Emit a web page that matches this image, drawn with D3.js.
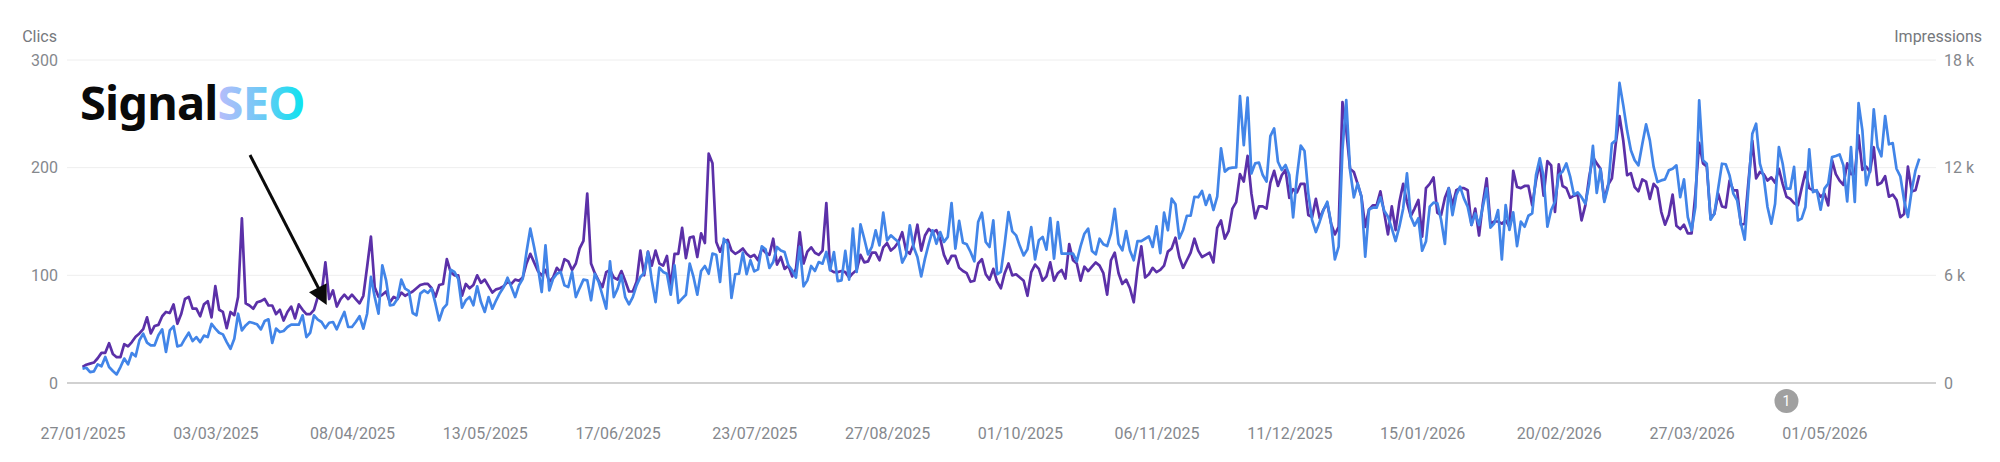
<!DOCTYPE html>
<html>
<head>
<meta charset="utf-8">
<title>Clics et impressions</title>
<script src="https://cdn.jsdelivr.net/npm/d3@7/dist/d3.min.js"></script>
<style>
  html, body { margin: 0; padding: 0; background: #fff; }
  svg { display: block; }
  text { font-family: Roboto, sans-serif; fill: #85888d; }
</style>
</head>
<body>
<svg id="chart" width="2000" height="462"></svg>
<script>
// Daily series, first value on 27/01/2025.
const clicks = [
15,17,18,19,23,28,28,37,27,24,24,36,34,38,43,46,50,61,46,53,54,62,66,65,73,55,64,78,80,69,
69,62,73,76,61,90,68,66,51,66,63,80,153,74,72,69,75,76,78,72,72,64,68,58,66,71,60,73,68,64,
64,68,80,83,112,78,86,71,78,82,78,82,78,74,81,108,136,89,80,82,85,75,80,78,84,81,83,85,88,91,
92,92,88,80,91,92,115,103,100,100,81,92,88,91,100,93,96,90,84,87,88,90,94,92,96,95,98,111,120,112,
104,100,105,94,98,107,103,115,113,105,111,125,132,176,111,102,95,89,103,105,98,96,104,95,85,85,94,123,100,122,
109,123,111,109,118,89,120,120,144,116,135,136,117,139,130,213,204,131,122,131,133,123,120,122,125,120,117,119,114,125,
121,119,134,110,117,106,109,99,106,140,111,122,126,121,119,123,167,105,103,103,104,103,98,102,105,119,112,113,121,121,
114,126,130,123,126,131,140,123,120,129,147,123,137,143,140,142,134,119,111,118,118,107,104,102,94,95,111,115,101,96,
106,94,88,102,111,100,101,98,95,81,103,110,106,95,99,112,95,102,105,97,129,114,111,95,108,104,108,112,109,102,
82,114,121,102,92,96,88,75,106,127,98,101,107,103,105,109,122,125,135,117,107,114,121,134,123,117,119,121,112,144,
151,134,141,162,168,194,187,211,176,153,164,164,162,186,197,183,193,198,172,180,177,185,185,156,154,171,153,161,167,148,
138,145,261,235,199,196,185,173,145,161,165,165,178,158,138,164,142,168,185,168,155,162,170,136,181,185,191,158,156,172,
181,165,179,181,181,179,147,162,137,167,190,148,150,150,148,151,145,197,182,181,183,183,165,188,205,174,206,202,159,203,
183,181,172,174,175,151,165,191,210,204,199,170,184,190,222,248,225,193,195,182,178,189,187,171,185,181,159,147,156,175,
146,143,147,139,139,176,223,204,201,153,157,176,164,163,188,179,179,147,148,188,225,190,196,194,188,191,186,199,185,173,
171,167,165,181,196,181,179,178,173,176,165,207,194,188,184,204,194,194,230,198,201,196,219,184,186,192,173,175,170,154,
157,201,178,179,193
];

const impressions = [
800,850,610,650,1040,930,1450,890,670,480,890,1360,1040,1670,1490,2380,2750,2250,2100,2100,2660,2990,1730,2930,3160,2040,2100,2470,2800,2340,
2560,2280,2640,2560,3300,3030,2800,2710,2280,1910,2470,3860,2930,3210,3400,3340,3270,2990,3450,3550,2230,3030,2840,2900,3120,3250,3250,3250,3770,2560,
2800,3770,3530,3400,3060,3360,3400,2990,3490,3960,3120,3120,3400,3720,3030,3860,5910,4790,3860,6560,5720,4330,4370,4700,5760,5260,5130,3900,3770,4980,
5160,5020,5260,4420,3490,4140,4380,6320,6190,5810,4200,4610,4790,4330,5390,4510,3960,4790,4140,4610,5020,5350,5870,5350,4790,5440,5810,7300,8600,7580,
6460,5070,7670,5160,5810,6090,6190,5440,5350,6190,4790,5290,5760,5720,4610,6090,5630,4890,4140,6780,4790,5260,6000,4790,4380,4790,5440,5910,6130,7300,
5720,4510,6430,6190,6090,4920,6560,4460,4700,4920,6650,5910,4920,6240,6520,6090,7210,7150,5630,8040,7760,4740,6060,6090,7260,6060,6840,6220,6330,7620,
7450,6410,6740,7580,7390,7300,6560,6280,5870,7580,5390,5720,6520,6240,6740,6650,7300,6280,7300,5680,5720,7360,5760,8600,6190,8840,8040,7170,7580,8510,
7670,9490,7950,8230,8040,7860,6710,7110,8790,7580,7020,5940,6930,7760,8510,7760,8410,7860,8140,10030,7490,9030,7820,7730,7300,6780,8970,9490,7860,7580,
9060,6060,6190,7760,9530,8450,8230,7630,7110,7450,8690,6890,7950,8140,7430,9190,6930,8970,7210,7210,7210,7210,6780,7630,8320,8600,7360,7170,8040,7730,
7630,8320,9710,7760,7390,8470,7390,6840,7910,7910,8040,8170,7580,8730,7240,9490,8510,10270,9960,8060,8530,9320,9320,10380,10350,10700,9920,10480,9640,10380,
13080,11780,11960,12000,12020,15990,13260,15900,11680,12240,12280,11590,11220,13760,14190,12330,11870,12150,11590,9230,11500,13230,12930,10570,9080,8410,8990,9640,10100,8900,
6890,7600,12980,15770,11870,10350,11130,10380,7040,9680,9770,9770,10350,9600,9270,8620,7910,8710,9730,11680,9270,8770,9180,7370,7880,9830,10050,10010,9080,7750,
10850,9360,10480,10940,10290,9830,8800,9450,8800,9830,10850,8660,8900,9640,6890,9920,8530,9510,7630,8990,8710,9320,9450,11590,12520,11500,8710,9640,10100,11590,
11780,12240,11500,10480,10620,10360,9990,11110,13210,10590,11940,10090,10920,13340,13520,16720,15470,14080,12970,12410,12130,13300,14410,13520,12040,11200,11290,11350,11850,11940,
12130,10360,11350,9250,8510,9810,15750,12410,12220,9100,9440,10830,12220,12190,11570,10550,10180,8880,7990,10920,13890,14450,12220,11480,9810,8880,9990,13150,12220,10830,
10830,12040,9060,9160,9810,13020,10640,10740,9660,10830,11110,12590,12650,12740,12130,10120,13150,10090,15600,14080,11020,11850,15250,13150,12630,14880,13300,13370,11940,11520,
10180,9250,10740,11850,12500
];

const dateLabels = [
  "27/01/2025","03/03/2025","08/04/2025","13/05/2025","17/06/2025","23/07/2025","27/08/2025",
  "01/10/2025","06/11/2025","11/12/2025","15/01/2026","20/02/2026","27/03/2026","01/05/2026"
];
const clickTicks = [0, 100, 200, 300];
const impressionTicks = [0, 6000, 12000, 18000];
const annotationDate = "21/04/2026";
const annotationText = "1";

const parseDay = d3.utcParse("%d/%m/%Y");
const formatDay = d3.utcFormat("%d/%m/%Y");
const firstDay = parseDay(dateLabels[0]);
const dayOf = i => d3.utcDay.offset(firstDay, i);

const plot = { left: 67, right: 1936, top: 60, bottom: 383 };

const x = d3.scaleUtc()
  .domain([firstDay, dayOf(484)])
  .range([82.5, 1919.3]);
const yClicks = d3.scaleLinear().domain([0, 300]).range([plot.bottom, plot.top]);
const yImpressions = d3.scaleLinear().domain([0, 18000]).range([plot.bottom, plot.top]);

const svg = d3.select("#chart");

// Horizontal grid, with a darker baseline at zero.
svg.append("g").selectAll("line").data(clickTicks).join("line")
  .attr("x1", plot.left).attr("x2", plot.right)
  .attr("y1", d => yClicks(d)).attr("y2", d => yClicks(d))
  .attr("stroke", d => d === 0 ? "#a3a3a3" : "#eeeeee")
  .attr("stroke-width", d => d === 0 ? 1.2 : 1);

// Axes keep their labels only: ticks and domain lines are removed.
function cleanAxis(g) {
  g.select(".domain").remove();
  g.selectAll(".tick line").remove();
  g.selectAll(".tick text").attr("font-family", "Roboto, sans-serif").attr("font-size", 16);
}

svg.append("g")
  .attr("transform", `translate(${plot.left - 9},0)`)
  .call(d3.axisLeft(yClicks).tickValues(clickTicks).tickSize(0).tickPadding(0))
  .call(cleanAxis);

svg.append("g")
  .attr("transform", `translate(${plot.right + 8},0)`)
  .call(d3.axisRight(yImpressions).tickValues(impressionTicks).tickSize(0).tickPadding(0)
    .tickFormat(d => d === 0 ? "0" : `${d / 1000} k`))
  .call(cleanAxis);

svg.append("g")
  .attr("transform", "translate(0,428)")
  .call(d3.axisBottom(x).tickValues(dateLabels.map(parseDay)).tickSize(0).tickPadding(0)
    .tickFormat(formatDay))
  .call(cleanAxis);

svg.append("text").attr("x", 57).attr("y", 42).attr("text-anchor", "end")
  .attr("font-size", 16).style("fill", "#75787d").text("Clics");
svg.append("text").attr("x", 1982).attr("y", 42).attr("text-anchor", "end")
  .attr("font-size", 16).style("fill", "#75787d").text("Impressions");

// The two daily curves; the blue one sits on top.
const lineFor = (values, y) => d3.line()
  .x((d, i) => x(dayOf(i)))
  .y(d => y(d))(values);

svg.append("path")
  .attr("d", lineFor(clicks, yClicks))
  .attr("fill", "none").attr("stroke", "#5b30a8").attr("stroke-width", 2.7)
  .attr("stroke-linejoin", "round");
svg.append("path")
  .attr("d", lineFor(impressions, yImpressions))
  .attr("fill", "none").attr("stroke", "#4285e8").attr("stroke-width", 2.7)
  .attr("stroke-linejoin", "round");

// Numbered event marker under the axis.
const marker = svg.append("g")
  .attr("transform", `translate(${x(parseDay(annotationDate))},401)`);
marker.append("circle").attr("r", 12).attr("fill", "#a0a0a0");
marker.append("text").attr("text-anchor", "middle").attr("dy", "0.36em")
  .attr("font-size", 14).style("fill", "#fff").text(annotationText);

// Brand overlay: wordmark and arrow.
const defs = svg.append("defs");
const grad = defs.append("linearGradient").attr("id", "brandGradient")
  .attr("gradientUnits", "userSpaceOnUse")
  .attr("x1", 216).attr("x2", 302).attr("y1", 0).attr("y2", 0);
grad.append("stop").attr("offset", "0%").attr("stop-color", "#bcbcfb");
grad.append("stop").attr("offset", "50%").attr("stop-color", "#74c8f6");
grad.append("stop").attr("offset", "100%").attr("stop-color", "#0fe2ef");

const brand = svg.append("text")
  .attr("x", 80).attr("y", 120)
  .style("font-family", "'Noto Sans', sans-serif")
  .attr("font-size", 47).attr("font-weight", 700)
  .attr("letter-spacing", -0.8);
brand.append("tspan").style("fill", "#0a0a0a").text("Signal");
brand.append("tspan").style("fill", "url(#brandGradient)").text("SEO");

svg.append("line")
  .attr("x1", 250).attr("y1", 155).attr("x2", 322).attr("y2", 295)
  .attr("stroke", "#0a0a0a").attr("stroke-width", 3);
svg.append("path")
  .attr("d", d3.line()([[326.7, 305], [309, 292.3], [326.7, 283.3]]) + "Z")
  .attr("fill", "#0a0a0a");
</script>
</body>
</html>
